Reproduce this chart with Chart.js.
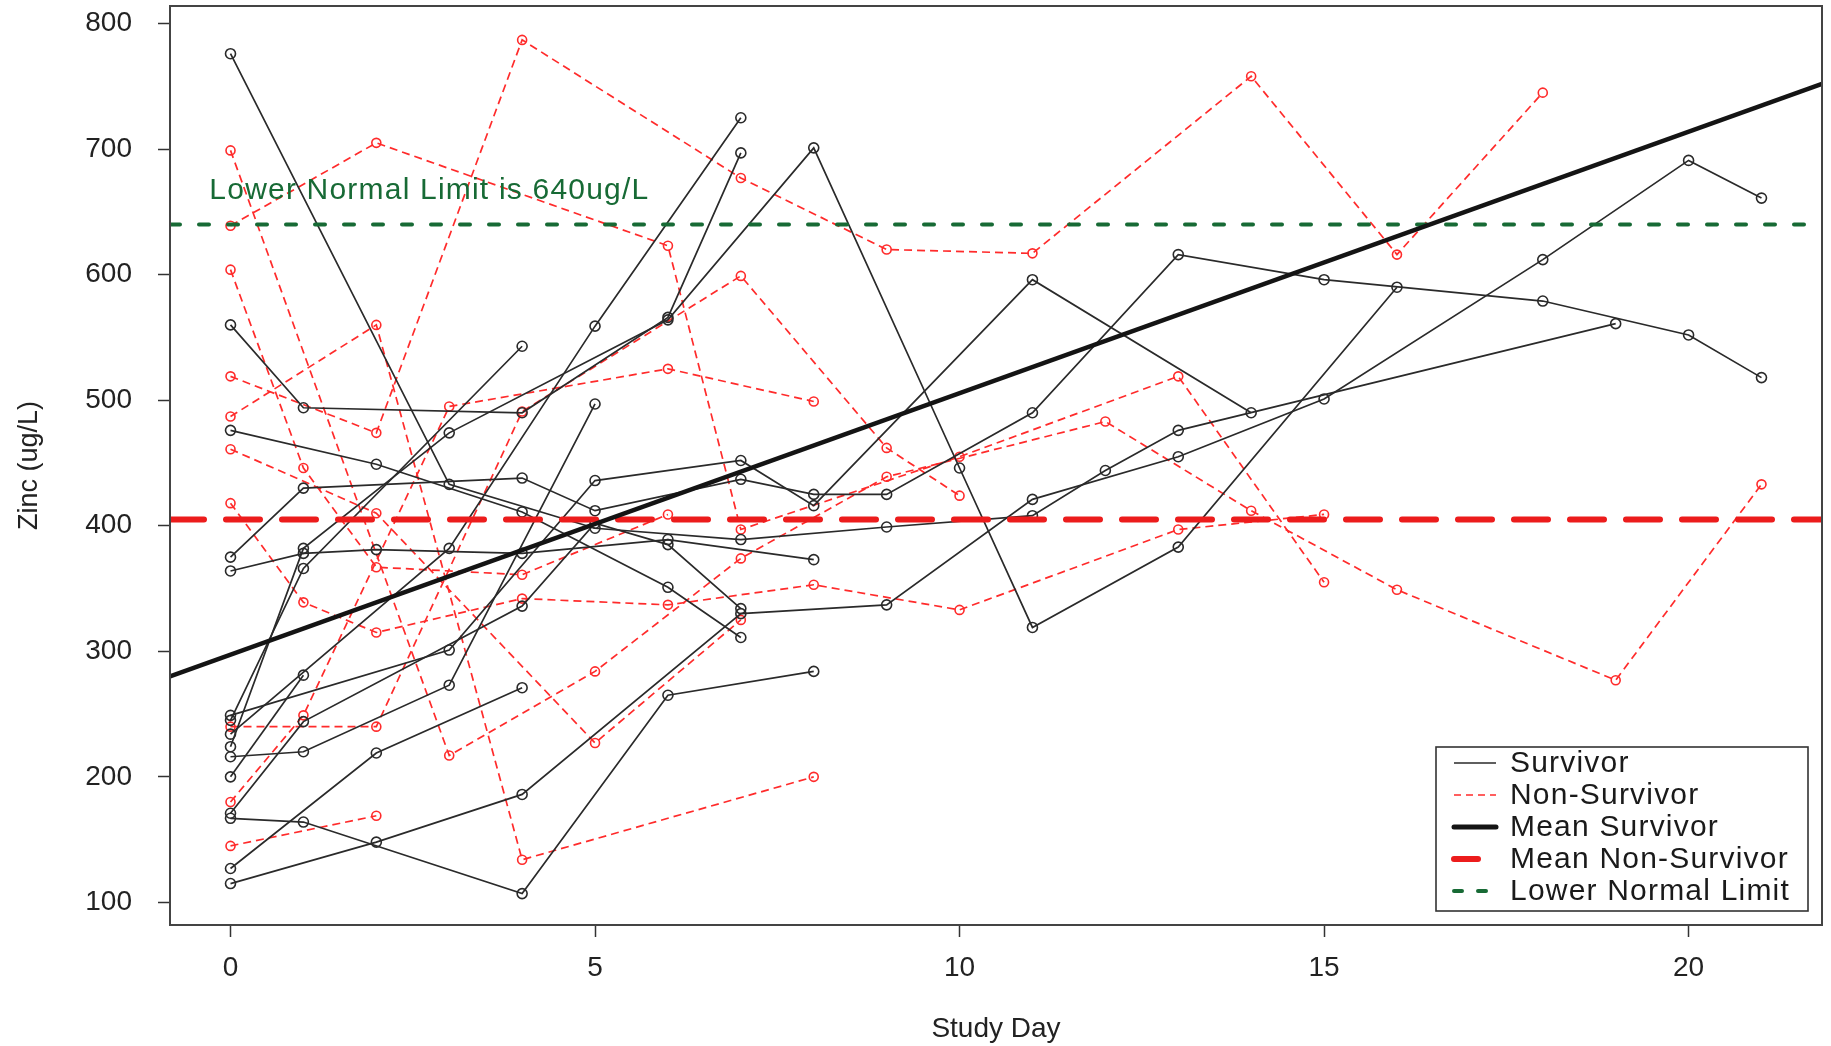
<!DOCTYPE html>
<html>
<head>
<meta charset="utf-8">
<script src="https://cdn.jsdelivr.net/npm/chart.js@4.4.1/dist/chart.umd.min.js"></script>
<style>
  html, body { margin: 0; padding: 0; background: #ffffff; overflow: hidden; }
  #wrap { width: 1831px; height: 1046px; }
</style>
</head>
<body>
<div id="wrap"><canvas id="c" width="1831" height="1046"></canvas></div>
<script>
// Axis ticks
const xTicks = [0, 5, 10, 15, 20];
const yTicks = [100, 200, 300, 400, 500, 600, 700, 800];
const xRange = [-0.83, 21.83];
const yRange = [82, 814];

// Survivors: [study day, zinc ug/L]
const surv01 = [[0,776],[3,433],[5,398],[7,389],[9,399],[11,408],[12,444],[13,476],[19,561]];
const surv02 = [[0,560],[1,494],[4,490],[6,566],[7,697]];
const surv03 = [[0,224],[1,382],[3,474],[6,564],[8,701],[10,446],[11,319],[13,383],[16,590]];
const surv04 = [[0,476],[2,449],[4,411],[6,351],[7,311]];
const surv05 = [[0,375],[1,430],[4,438],[5,412],[7,437],[8,425],[9,425],[11,490],[13,616],[15,596],[18,579],[20,552],[21,518]];
const surv06 = [[0,364],[1,378],[2,381],[4,378],[6,389],[8,373]];
const surv07 = [[0,249],[3,301],[5,436],[7,452],[8,416],[11,596],[14,490]];
const surv08 = [[0,245],[1,366],[4,543]];
const surv09 = [[0,234],[3,382],[5,559],[7,725]];
const surv10 = [[0,171],[1,244],[4,336],[5,402],[6,385],[7,334]];
const surv11 = [[0,115],[2,148],[4,186],[7,330],[9,337],[11,421],[13,455],[15,501],[18,612],[20,691],[21,661]];
const surv12 = [[0,167],[1,164],[4,107],[6,265],[8,284]];
const surv13 = [[0,216],[1,220],[3,273],[5,497]];
const surv14 = [[0,127],[2,219],[4,271]];
const surv15 = [[0,200],[1,281]];

// Non-survivors: [study day, zinc ug/L]
const nons01 = [[0,699],[3,217],[5,284],[7,374],[9,439],[12,483],[14,412],[16,349],[19,277],[21,433]];
const nons02 = [[0,639],[2,705],[6,623],[7,397],[10,455],[13,519],[15,355]];
const nons03 = [[0,604],[1,446],[2,367],[4,361],[6,409]];
const nons04 = [[0,519],[2,474],[4,787],[7,677],[9,620],[11,617],[14,758],[16,616],[18,745]];
const nons05 = [[0,487],[2,560],[4,134],[8,200]];
const nons06 = [[0,461],[2,410],[5,227],[7,325]];
const nons07 = [[0,418],[1,339],[2,315],[4,342],[6,337],[8,353],[10,333],[13,397],[15,409]];
const nons08 = [[0,145],[2,169]];
const nons09 = [[0,180],[1,249],[3,495],[6,525],[8,499]];
const nons10 = [[0,240],[2,240],[4,491],[7,599],[9,462],[10,424]];

// Reference lines
const meanSurvivor = [[-0.83, 280], [21.83, 752]];
const meanNonSurvivor = 405;
const lowerLimit = 640;
const limitLabel = 'Lower Normal Limit is 640ug/L';

const legendItems = ['Survivor', 'Non-Survivor', 'Mean Survivor', 'Mean Non-Survivor', 'Lower Normal Limit'];

const survivors = [surv01, surv02, surv03, surv04, surv05, surv06, surv07, surv08, surv09, surv10, surv11, surv12, surv13, surv14, surv15];
const nonSurvivors = [nons01, nons02, nons03, nons04, nons05, nons06, nons07, nons08, nons09, nons10];

const FONT = "'Liberation Sans', Arial, sans-serif";
const BLACK = '#2a2a2a';
const RED = '#ff2b2b';
const MEAN_RED = '#ec1c1c';
const GREEN = '#176a35';

const toPts = arr => arr.map(p => ({ x: p[0], y: p[1] }));

const datasets = [];
datasets.push({
  label: 'Mean Survivor', data: toPts(meanSurvivor), showLine: true,
  borderColor: '#141414', borderWidth: 4.5, pointRadius: 0
});
datasets.push({
  label: 'Mean Non-Survivor',
  data: [{ x: xRange[0], y: meanNonSurvivor }, { x: xRange[1], y: meanNonSurvivor }],
  showLine: true, borderColor: MEAN_RED, borderWidth: 6, borderDash: [34, 22],
  borderCapStyle: 'round', pointRadius: 0
});
datasets.push({
  label: 'Lower Normal Limit',
  data: [{ x: xRange[0], y: lowerLimit }, { x: xRange[1], y: lowerLimit }],
  showLine: true, borderColor: GREEN, borderWidth: 4, borderDash: [10, 19],
  borderCapStyle: 'round', pointRadius: 0
});
survivors.forEach((s, i) => datasets.push({
  label: 'Survivor ' + (i + 1), data: toPts(s), showLine: true,
  borderColor: BLACK, borderWidth: 1.7,
  pointRadius: 5, pointBorderWidth: 1.6, pointBorderColor: BLACK,
  pointBackgroundColor: 'rgba(0,0,0,0)'
}));
nonSurvivors.forEach((s, i) => datasets.push({
  label: 'Non-Survivor ' + (i + 1), data: toPts(s), showLine: true,
  borderColor: RED, borderWidth: 1.7, borderDash: [8, 5],
  pointRadius: 4.5, pointBorderWidth: 1.6, pointBorderColor: RED,
  pointBackgroundColor: 'rgba(0,0,0,0)'
}));

// Frame, limit label and legend box
const decorations = {
  id: 'decorations',
  afterDraw(chart) {
    const { ctx, chartArea: a, scales } = chart;
    ctx.save();
    ctx.strokeStyle = '#444';
    ctx.lineWidth = 2;
    ctx.strokeRect(a.left, a.top, a.right - a.left, a.bottom - a.top);

    // label of the lower normal limit
    ctx.fillStyle = GREEN;
    ctx.font = '30px ' + FONT;
    ctx.letterSpacing = '1.2px';
    ctx.textAlign = 'left';
    ctx.textBaseline = 'alphabetic';
    ctx.fillText(limitLabel, scales.x.getPixelForValue(-0.29), scales.y.getPixelForValue(660));

    // legend
    const lx = 1436, ly = 747, lw = 372, lh = 164;
    ctx.letterSpacing = '0px';
    ctx.fillStyle = '#ffffff';
    ctx.fillRect(lx, ly, lw, lh);
    ctx.strokeStyle = '#333';
    ctx.lineWidth = 1.6;
    ctx.strokeRect(lx, ly, lw, lh);
    const rowY = i => ly + 16 + i * 32;
    const x0 = lx + 18, x1 = lx + 60;
    const seg = (i, color, width, dash, cap) => {
      ctx.beginPath();
      ctx.setLineDash(dash);
      ctx.lineCap = cap;
      ctx.strokeStyle = color;
      ctx.lineWidth = width;
      ctx.moveTo(x0, rowY(i));
      ctx.lineTo(x1, rowY(i));
      ctx.stroke();
    };
    seg(0, BLACK, 1.7, [], 'butt');
    seg(1, RED, 1.6, [7, 5], 'butt');
    seg(2, '#141414', 5, [], 'round');
    seg(3, MEAN_RED, 6, [24, 40], 'round');
    seg(4, GREEN, 4, [8, 16], 'round');
    ctx.setLineDash([]);
    ctx.fillStyle = '#1a1a1a';
    ctx.font = '30px ' + FONT;
    ctx.letterSpacing = '1.2px';
    ctx.textBaseline = 'middle';
    legendItems.forEach((t, i) => ctx.fillText(t, lx + 74, rowY(i) + 1));
    ctx.restore();
  }
};

// Fixed axis boxes so the plot frame sits at the same place every time
const fixX = s => { s.height = 121; s.paddingLeft = 0; s.paddingRight = 0; s.paddingTop = 0; s.paddingBottom = 0; };
const fixY = s => { s.width = 170; s.paddingLeft = 0; s.paddingRight = 0; s.paddingTop = 0; s.paddingBottom = 0; };

new Chart(document.getElementById('c'), {
  type: 'scatter',
  data: { datasets },
  options: {
    responsive: false,
    animation: false,
    devicePixelRatio: 1,
    layout: { autoPadding: false, padding: { left: 0, top: 6, right: 9, bottom: 0 } },
    plugins: { legend: { display: false }, tooltip: { enabled: false } },
    scales: {
      x: {
        type: 'linear', min: xRange[0], max: xRange[1],
        afterBuildTicks: s => { s.ticks = xTicks.map(v => ({ value: v })); },
        afterFit: fixX,
        ticks: { font: { size: 28, family: FONT }, color: '#222', padding: 14, maxRotation: 0, autoSkip: false },
        grid: { drawOnChartArea: false, drawTicks: true, tickLength: 12, color: '#333', tickColor: '#333', tickWidth: 1.5 },
        border: { display: false },
        title: { display: true, text: 'Study Day', font: { size: 28, family: FONT }, color: '#222', padding: { top: 0, bottom: 0 } }
      },
      y: {
        type: 'linear', min: yRange[0], max: yRange[1],
        afterBuildTicks: s => { s.ticks = yTicks.map(v => ({ value: v })); },
        afterFit: fixY,
        ticks: { font: { size: 28, family: FONT }, color: '#222', padding: 26, autoSkip: false },
        grid: { drawOnChartArea: false, drawTicks: true, tickLength: 12, color: '#333', tickColor: '#333', tickWidth: 1.5 },
        border: { display: false },
        title: { display: true, text: 'Zinc (ug/L)', font: { size: 27, family: FONT }, color: '#222', padding: { top: 13, bottom: 0 } }
      }
    }
  },
  plugins: [decorations]
});
</script>
</body>
</html>
